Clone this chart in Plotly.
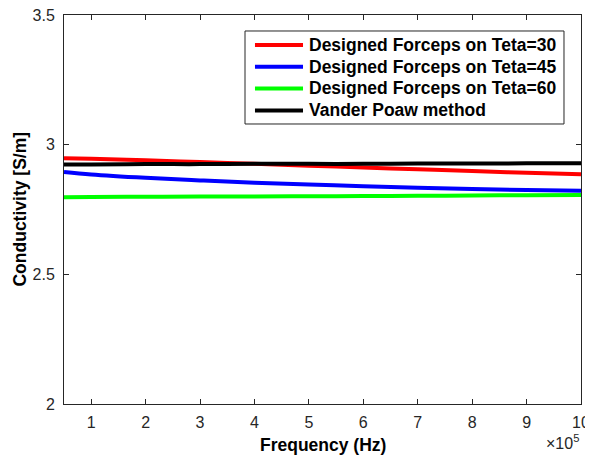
import plotly.graph_objects as go

freq_e5 = [0.5, 1, 2, 3, 4, 5, 6, 7, 8, 9, 10]
freq_hz = [f * 1e5 for f in freq_e5]

teta30 = [2.948, 2.946, 2.940, 2.933, 2.926, 2.919, 2.912, 2.905, 2.898, 2.892, 2.886]
teta45 = [2.895, 2.885, 2.872, 2.862, 2.853, 2.846, 2.840, 2.834, 2.829, 2.825, 2.822]
teta60 = [2.797, 2.798, 2.799, 2.800, 2.800, 2.801, 2.802, 2.803, 2.804, 2.805, 2.806]
vander = [2.924, 2.924, 2.925, 2.925, 2.926, 2.926, 2.926, 2.927, 2.927, 2.928, 2.928]

names = ["Designed Forceps on Teta=30", "Designed Forceps on Teta=45",
         "Designed Forceps on Teta=60", "Vander Poaw method"]
colors = ["#ff0000", "#0000ff", "#00ff00", "#000000"]
series = [teta30, teta45, teta60, vander]

xtick_vals = [1, 2, 3, 4, 5, 6, 7, 8, 9, 10]
ytick_vals = [2, 2.5, 3, 3.5]
ytick_text = ["2", "2.5", "3", "3.5"]

fig = go.Figure()
for n, c, s in zip(names, colors, series):
    fig.add_trace(go.Scatter(x=freq_hz, y=s, mode="lines", name=n, showlegend=False,
                             line=dict(color=c, width=4, shape="spline")))

font = "Arial, Liberation Sans, sans-serif"
axcol = "#262626"
fig.update_layout(
    width=585, height=447,
    margin=dict(l=56, r=12, t=7, b=51, autoexpand=False),
    plot_bgcolor="white", paper_bgcolor="white",
    font=dict(family=font, size=16, color=axcol),
    showlegend=False,
)
fig.update_xaxes(
    range=[0.5e5, 10e5],
    tickvals=[v * 1e5 for v in xtick_vals],
    ticktext=[str(v) for v in xtick_vals],
    ticks="inside", ticklen=5, tickcolor=axcol, tickwidth=1,
    showline=True, linecolor=axcol, linewidth=1, mirror="ticks",
    showgrid=False, zeroline=False, automargin=False,
    tickfont=dict(size=16, color=axcol), ticklabelstandoff=4,
    ticklabeloverflow="allow",
)
fig.update_yaxes(
    range=[2, 3.5],
    tickvals=ytick_vals,
    ticktext=ytick_text,
    ticks="inside", ticklen=5, tickcolor=axcol, tickwidth=1,
    showline=True, linecolor=axcol, linewidth=1, mirror="ticks",
    showgrid=False, zeroline=False, automargin=False,
    tickfont=dict(size=16, color=axcol), ticklabelstandoff=5,
    ticklabeloverflow="allow",
)

# Legend box (MATLAB style), drawn in paper coordinates
box_x0, box_x1, box_y0, box_y1 = 0.3501, 0.9671, 0.7198, 0.9589
fig.add_shape(type="rect", xref="paper", yref="paper",
              x0=box_x0, x1=box_x1, y0=box_y0, y1=box_y1,
              line=dict(color=axcol, width=1), fillcolor="white", layer="above")
row_y = [0.9229, 0.8671, 0.8111, 0.7545]
for n, c, ry in zip(names, colors, row_y):
    fig.add_shape(type="line", xref="paper", yref="paper",
                  x0=0.3694, x1=0.4623, y0=ry, y1=ry,
                  line=dict(color=c, width=4), layer="above")
    fig.add_annotation(text=n, xref="paper", yref="paper",
                       x=0.4700, y=ry, xanchor="left", yanchor="middle",
                       showarrow=False,
                       font=dict(family=font, size=17.5, color="#000000", weight="bold"))

fig.add_annotation(text="Frequency (Hz)", xref="paper", yref="paper",
                   x=0.5, y=-0.105, xanchor="center", yanchor="middle",
                   showarrow=False, font=dict(family=font, size=17.5, color="#000000", weight="bold"))
fig.add_annotation(text="Conductivity [S/m]", xref="paper", yref="paper",
                   x=-0.087, y=0.5, xanchor="center", yanchor="middle", textangle=-90,
                   showarrow=False, font=dict(family=font, size=17.5, color="#000000", weight="bold"))
fig.add_annotation(text="×10<sup>5</sup>", xref="paper", yref="paper",
                   x=1.0, y=-0.097, xanchor="right", yanchor="middle",
                   showarrow=False, font=dict(family=font, size=16, color=axcol))

fig.write_html("out.html")
